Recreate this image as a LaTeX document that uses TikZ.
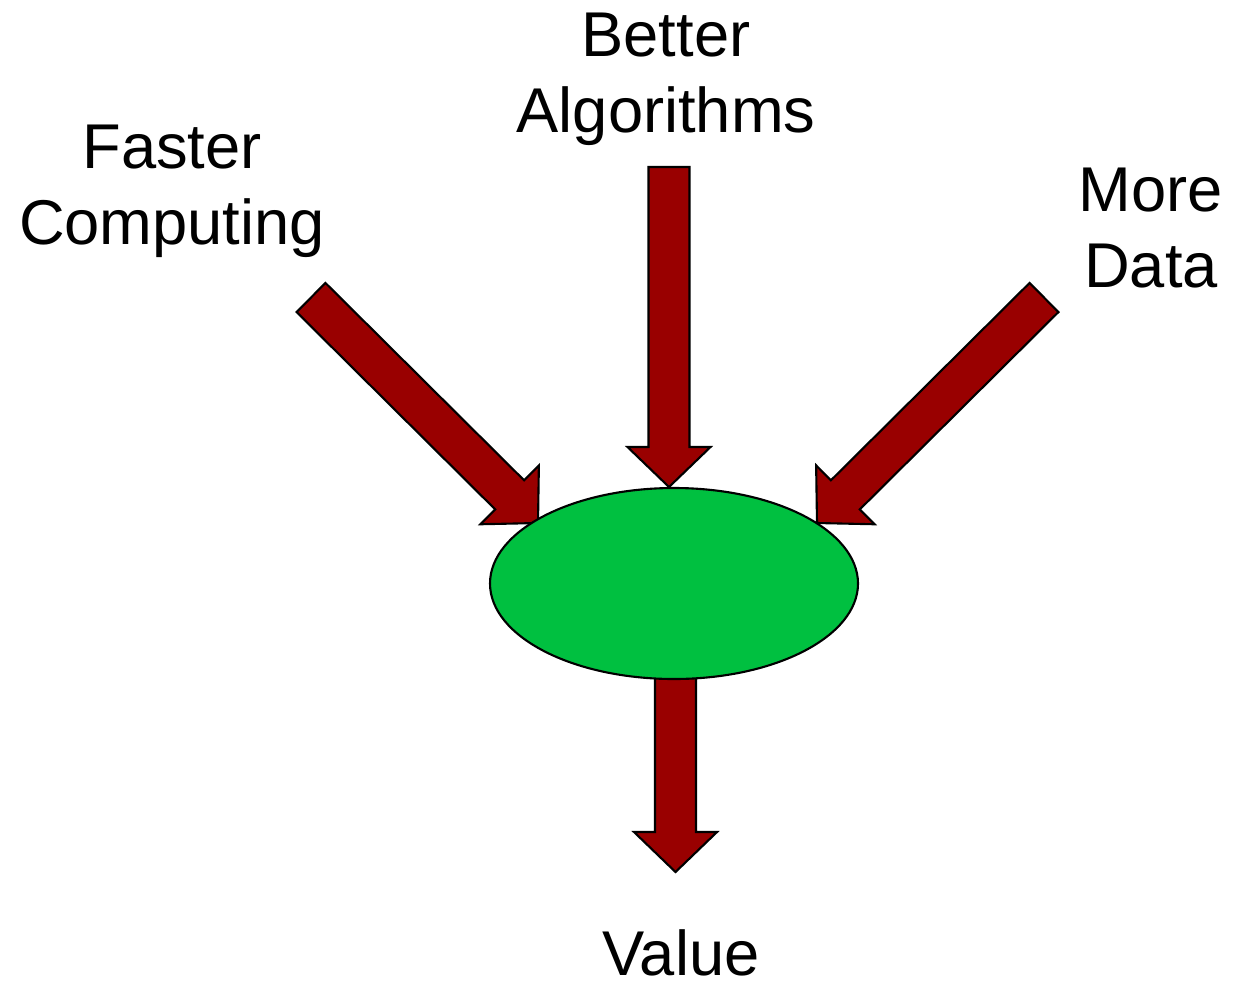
\documentclass[tikz,border=0pt]{standalone}
\usepackage{fontspec}
\setmainfont{Liberation Sans}
\usetikzlibrary{calc,shapes.geometric}
\definecolor{arrowred}{RGB}{153,0,0}
\definecolor{coregreen}{RGB}{0,192,64}
\tikzset{
  bigarrow/.style={fill=arrowred, draw=black, line width=0.6pt, line join=miter},
  lbl/.style={font=\fontsize{18pt}{21.6pt}\selectfont, align=center, inner sep=0pt, anchor=base}
}
% block arrow from tail centre #1 to tip #2
\newcommand{\blockarrow}[2]{%
  \coordinate (hb) at ($(#2)!0.40cm!(#1)$);
  \draw[bigarrow] ($(#1)!0.205cm!90:(#2)$) -- ($(hb)!0.205cm!-90:(#1)$)
    -- ($(hb)!0.415cm!-90:(#1)$) -- (#2) -- ($(hb)!0.415cm!90:(#1)$)
    -- ($(hb)!0.205cm!90:(#1)$) -- ($(#1)!0.205cm!-90:(#2)$) -- cycle;}
\begin{document}
\begin{tikzpicture}
    \useasboundingbox (0,0) rectangle (12.33,9.86);
    \coordinate (fc tail) at (3.11, 6.885);
    \coordinate (fc tip) at (5.38, 4.63);
    \coordinate (ba tail) at (6.69, 8.19);
    \coordinate (ba tip) at (6.69, 4.99);
    \coordinate (md tail) at (10.44, 6.885);
    \coordinate (md tip) at (8.17, 4.63);
    \coordinate (val tail) at (6.755, 3.10);
    \coordinate (val tip) at (6.755, 1.14);
    \blockarrow{fc tail}{fc tip}
    \blockarrow{ba tail}{ba tip}
    \blockarrow{md tail}{md tip}
    \blockarrow{val tail}{val tip}
    \node[ellipse, draw=black, line width=0.6pt, fill=coregreen, minimum width=3.68cm,
          minimum height=1.91cm, inner sep=0pt] (core) at (6.74, 4.025) {};
    % base anchor sits on the last line
    \node[lbl] (faster) at (1.72, 7.42) {Faster\\Computing};
    \node[lbl] (better) at (6.66, 8.54) {Better\\Algorithms};
    \node[lbl] (more) at (11.51, 6.99) {More\\Data};
    \node[lbl] (value) at (6.81, 0.11) {Value};
\end{tikzpicture}
\end{document}
